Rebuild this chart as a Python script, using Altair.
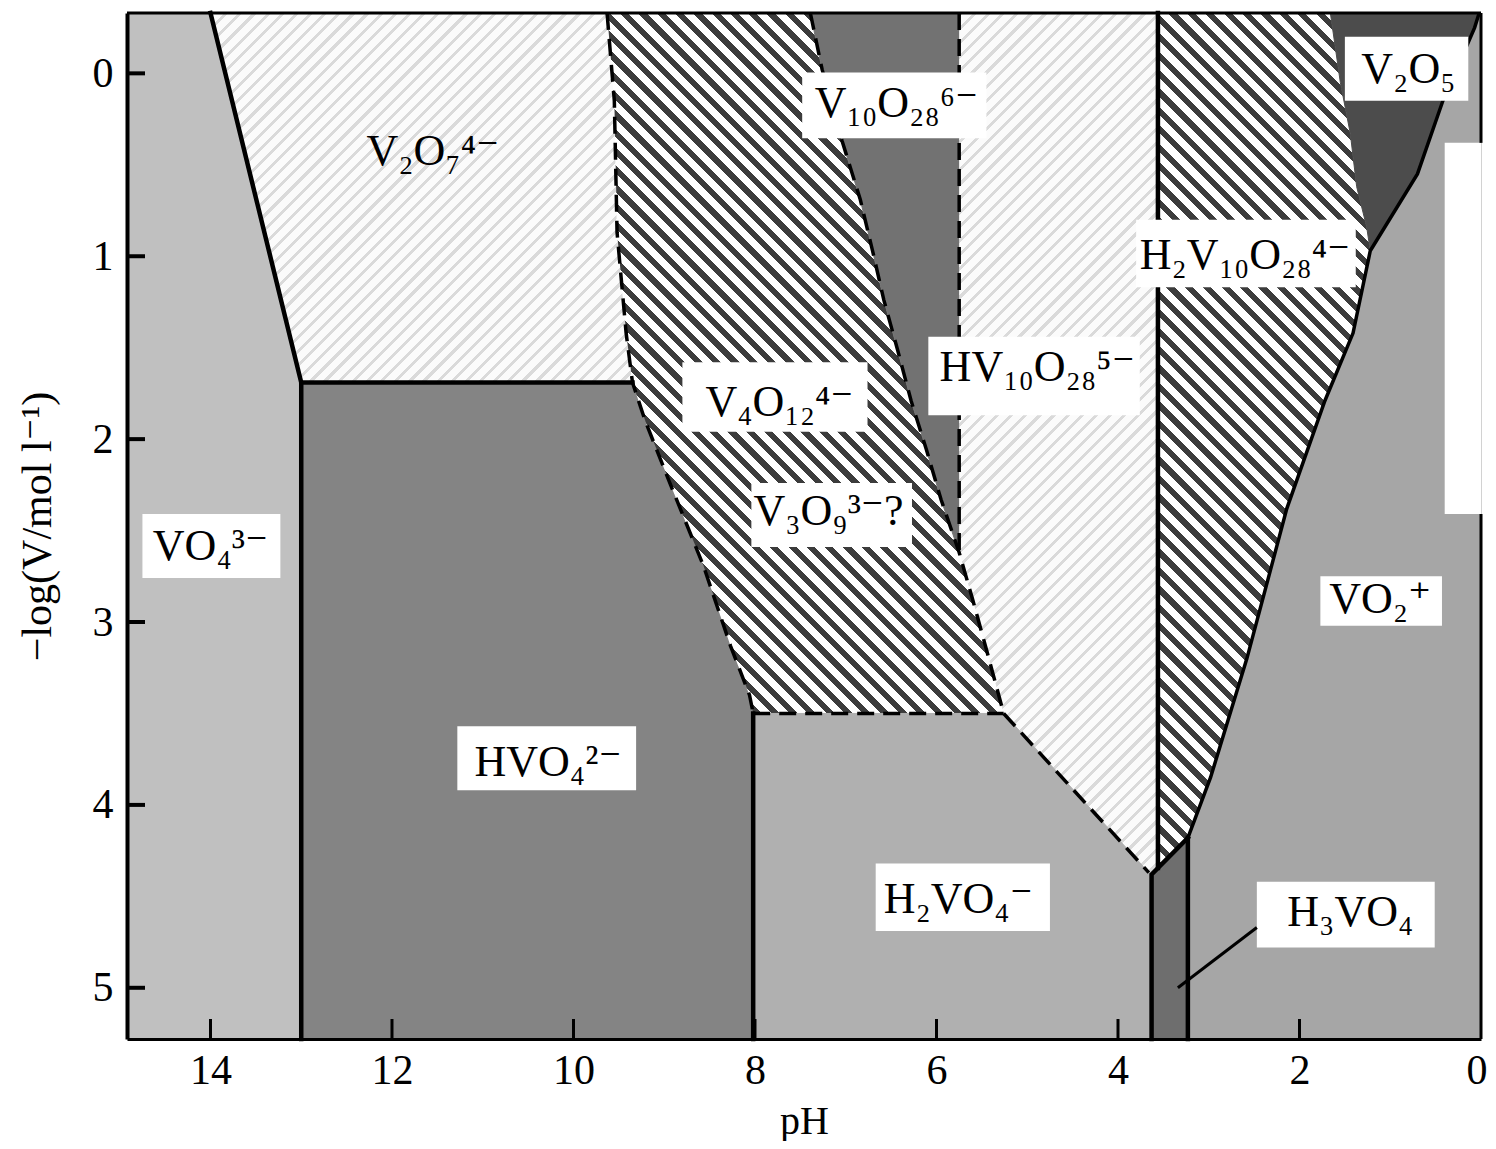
import math
import altair as alt
import pandas as pd

SERIF = "Liberation Serif, DejaVu Serif, serif"
W, H = 1354, 1026
PH_MIN, PH_MAX = 0.0, 14.92
LC_MIN, LC_MAX = -0.33, 5.28

x_ticks = [0, 2, 4, 6, 8, 10, 12, 14]
y_ticks = [0, 1, 2, 3, 4, 5]

# ---------------- boundary lines (pH, -log c) ----------------
vo4_ph = [14.0, 13.0, 13.0]
vo4_lc = [-0.33, 1.69, 5.28]
hvo4_top_ph = [13.0, 9.35]
hvo4_top_lc = [1.69, 1.69]
left_ph = [9.63, 9.55, 9.52, 9.42, 9.35, 9.21, 8.93, 8.57, 8.27, 8.06, 8.02]
left_lc = [-0.33, 0.15, 0.87, 1.42, 1.69, 1.90, 2.25, 2.69, 3.13, 3.40, 3.50]
hvo4_right_ph = [8.02, 8.02]
hvo4_right_lc = [3.50, 5.28]
h2vo4_top_ph = [8.02, 5.26]
h2vo4_top_lc = [3.50, 3.50]
right_ph = [7.39, 7.26, 7.04, 6.84, 6.70, 6.58, 6.43, 6.28, 6.11, 5.95, 5.75, 5.60, 5.45, 5.26]
right_lc = [-0.33, -0.02, 0.37, 0.69, 0.98, 1.24, 1.51, 1.79, 2.06, 2.33, 2.62, 2.88, 3.15, 3.50]
v10_edge_ph = [5.75, 5.75]
v10_edge_lc = [-0.33, 2.62]
h2vo4_diag_ph = [5.26, 3.66]
h2vo4_diag_lc = [3.50, 4.37]
hv10_edge_ph = [3.56, 3.56]
hv10_edge_lc = [-0.33, 4.345]
h3vo4_left_ph = [3.63, 3.63, 3.23]
h3vo4_left_lc = [5.28, 4.38, 4.18]
h3vo4_right_ph = [3.23, 3.23]
h3vo4_right_lc = [5.28, 4.18]
diag_ph = [3.23, 2.98, 2.58, 2.14, 1.72, 1.41, 1.22, 0.70, 0.42, 0.07, 0.02]
diag_lc = [4.18, 3.85, 3.20, 2.38, 1.79, 1.42, 0.97, 0.55, 0.15, -0.25, -0.33]
v2o5_ph = [1.66, 1.55, 1.44, 1.37, 1.26, 1.22]
v2o5_lc = [-0.33, 0.05, 0.33, 0.62, 0.84, 0.97]

# scan artefact (white strip at right edge)
patch_ph = [0.40, 0.0]
patch_lc = [0.38, 2.41]

# ---------------- labels ----------------
labels = ["V₂O₇⁴⁻", "V₁₀O₂₈⁶⁻", "HV₁₀O₂₈⁵⁻", "V₄O₁₂⁴⁻", "V₃O₉³⁻?", "VO₄³⁻",
          "HVO₄²⁻", "H₂VO₄⁻", "H₃VO₄", "VO₂⁺", "H₂V₁₀O₂₈⁴⁻", "V₂O₅"]
label_ph = [11.55, 6.44, 4.89, 7.73, 7.19, 14.0, 10.28, 5.76, 1.44, 1.11, 2.60, 0.80]
label_lc = [0.43, 0.17, 1.61, 1.80, 2.40, 2.59, 3.77, 4.52, 4.59, 2.88, 1.00, -0.02]

box_ph0 = [7.48, 6.09, 8.80, 8.04, 14.75, 11.28, 6.67, 2.47, 1.77, 3.80, 1.50]
box_ph1 = [5.45, 3.76, 6.76, 6.27, 13.23, 9.31, 4.75, 0.51, 0.43, 1.38, 0.14]
box_lc0 = [-0.005, 1.44, 1.58, 2.24, 2.41, 3.57, 4.32, 4.42, 2.75, 0.80, -0.20]
box_lc1 = [0.355, 1.87, 1.96, 2.59, 2.76, 3.92, 4.69, 4.78, 3.02, 1.17, 0.15]

leader_ph = [2.47, 3.34]
leader_lc = [4.67, 5.00]

# ---------------- scales / axes ----------------
xs = alt.Scale(domain=[PH_MIN, PH_MAX], reverse=True, nice=False, zero=False)
ys = alt.Scale(domain=[LC_MIN, LC_MAX], reverse=True, nice=False, zero=False)
x_axis = alt.Axis(values=x_ticks, format="d", title="pH", titleFont=SERIF, titleFontSize=40,
                  titleFontWeight="normal", titleColor="black", titleBaseline="alphabetic", titleY=94,
                  labelFont=SERIF, labelFontSize=42, labelColor="black", labelPadding=11,
                  labelFlush=True, labelFlushOffset=6, labelOverlap=False, ticks=False, grid=False,
                  domainColor="black", domainWidth=3, zindex=1)
y_axis = alt.Axis(values=y_ticks, format="d", title="−log(V/mol l⁻¹)", titleFont=SERIF,
                  titleFontSize=42, titleFontWeight="normal", titleColor="black", titleAngle=270,
                  titleAlign="center", titleBaseline="alphabetic", titleX=-77,
                  labelFont=SERIF, labelFontSize=42, labelColor="black", labelPadding=14,
                  labelFlush=False, labelOverlap=False, ticks=False, grid=False,
                  domainColor="black", domainWidth=4, zindex=1)


def X(f):
    return alt.X(f + ":Q", scale=xs, axis=x_axis)


def Y(f):
    return alt.Y(f + ":Q", scale=ys, axis=y_axis)


PX_X = W / (PH_MAX - PH_MIN)
PX_Y = H / (LC_MAX - LC_MIN)


def stripes(pts, dark, light, frac, period, down=True):
    xsv = [p[0] for p in pts]
    ysv = [p[1] for p in pts]
    w = (max(xsv) - min(xsv)) * PX_X
    h = (max(ysv) - min(ysv)) * PX_Y
    span = (w + h) / math.sqrt(2)
    n = max(1, int(round(span / period)))
    t = (w + h) / (w * w + h * h)
    if down:
        x1, y1, x2, y2 = 0, 1, t * w, 1 - t * h
    else:
        x1, y1, x2, y2 = 0, 0, t * w, t * h
    stops = []
    for k in range(n):
        a, b, c = k / n, (k + frac) / n, (k + 1) / n
        stops += [alt.GradientStop(color=dark, offset=a), alt.GradientStop(color=dark, offset=b),
                  alt.GradientStop(color=light, offset=b), alt.GradientStop(color=light, offset=c)]
    return alt.LinearGradient(gradient="linear", stops=stops, x1=x1, y1=y1, x2=x2, y2=y2)


def P(a, b):
    return list(zip(a, b))


left = P(left_ph, left_lc)
right = P(right_ph, right_lc)
diag = P(diag_ph, diag_lc)
v2o5 = P(v2o5_ph, v2o5_lc)
c_h3 = (h3vo4_left_ph[1], h3vo4_left_lc[1])
j_hv = (hv10_edge_ph[1], hv10_edge_lc[1])
d_end = (h2vo4_diag_ph[1], h2vo4_diag_lc[1])
c_hvo4 = (hvo4_top_ph[0], hvo4_top_lc[0])

poly = {
    "VO4": [(PH_MAX, LC_MIN), (vo4_ph[0], vo4_lc[0]), c_hvo4, (13.0, LC_MAX), (PH_MAX, LC_MAX)],
    "V2O7": [(vo4_ph[0], vo4_lc[0]), c_hvo4] + left[4::-1],
    "HVO4": [c_hvo4] + left[4:] + [(hvo4_right_ph[1], hvo4_right_lc[1]), (13.0, LC_MAX)],
    "V4O12": left + right[::-1],
    "V10_6": right[:11] + [(v10_edge_ph[0], v10_edge_lc[0])],
    "HV10": [(v10_edge_ph[0], LC_MIN)] + right[10:] + [d_end, c_h3, j_hv, (hv10_edge_ph[0], LC_MIN)],
    "H2VO4": [(8.02, 3.50), (5.26, 3.50), d_end, c_h3, (h3vo4_left_ph[0], LC_MAX), (8.02, LC_MAX)],
    "H3VO4": [(h3vo4_left_ph[0], LC_MAX), c_h3, (3.23, 4.18), (3.23, LC_MAX)],
    "H2V10": [(hv10_edge_ph[0], LC_MIN), j_hv] + diag[:7] + v2o5[::-1],
    "V2O5": v2o5 + diag[7:],
    "VO2": [(3.23, LC_MAX)] + diag + [(PH_MIN, LC_MIN), (PH_MIN, LC_MAX)],
}

fills = {
    "VO4": "#c0c0c0",
    "V2O7": stripes(poly["V2O7"], "#dadada", "#fbfbfb", 0.3, 10, down=False),
    "HVO4": "#848484",
    "V4O12": stripes(poly["V4O12"], "#3c3c3c", "#ffffff", 0.45, 13),
    "V10_6": "#727272",
    "HV10": stripes(poly["HV10"], "#dadada", "#fbfbfb", 0.3, 10, down=False),
    "H2VO4": "#b0b0b0",
    "H3VO4": "#6e6e6e",
    "H2V10": stripes(poly["H2V10"], "#3c3c3c", "#ffffff", 0.45, 13),
    "V2O5": "#4c4c4c",
    "VO2": "#a6a6a6",
}

layers = []
for name, pts in poly.items():
    df = pd.DataFrame({"i": list(range(len(pts))), "ph": [p[0] for p in pts], "lc": [p[1] for p in pts]})
    f = fills[name]
    if isinstance(f, str):
        mk = alt.Chart(df).mark_line(fill=f, stroke=f, strokeWidth=1, interpolate="linear")
    else:
        mk = alt.Chart(df).mark_line(fill=f, strokeOpacity=0, strokeWidth=0, interpolate="linear")
    layers.append(mk.encode(x=X("ph"), y=Y("lc"), order="i:Q"))

# white artefact strip
patch_df = pd.DataFrame({"x0": [patch_ph[0]], "x1": [patch_ph[1]], "y0": [patch_lc[0]], "y1": [patch_lc[1]]})
layers.append(alt.Chart(patch_df).mark_rect(color="white").encode(
    x=X("x0"), x2="x1", y=Y("y0"), y2="y1"))


def lines_df(segs):
    rows = []
    for s, (a, b) in enumerate(segs):
        for i, (p, q) in enumerate(zip(a, b)):
            rows.append({"seg": s, "i": i, "ph": p, "lc": q})
    return pd.DataFrame(rows)


dashed = lines_df([(left_ph, left_lc), (h2vo4_top_ph, h2vo4_top_lc), (right_ph, right_lc),
                   (v10_edge_ph, v10_edge_lc), (h2vo4_diag_ph, h2vo4_diag_lc)])
solid = lines_df([(vo4_ph, vo4_lc), (hvo4_top_ph, hvo4_top_lc), (hvo4_right_ph, hvo4_right_lc),
                  (hv10_edge_ph, hv10_edge_lc), (h3vo4_left_ph, h3vo4_left_lc),
                  (h3vo4_right_ph, h3vo4_right_lc)])
diag_df = lines_df([(diag_ph, diag_lc)])

layers.append(alt.Chart(dashed).mark_line(color="black", strokeWidth=3.5, strokeDash=[17, 9]).encode(
    x=X("ph"), y=Y("lc"), detail="seg:N", order="i:Q"))
layers.append(alt.Chart(solid).mark_line(color="black", strokeWidth=4.5, strokeCap="square").encode(
    x=X("ph"), y=Y("lc"), detail="seg:N", order="i:Q"))
layers.append(alt.Chart(diag_df).mark_line(color="black", strokeWidth=3.5).encode(
    x=X("ph"), y=Y("lc"), detail="seg:N", order="i:Q"))

# inward ticks
xt_df = pd.DataFrame({"ph": [v for v in x_ticks if v > 0]})
layers.append(alt.Chart(xt_df).mark_rule(color="black", strokeWidth=3).encode(
    x=X("ph"), y=alt.value(H), y2=alt.value(H - 20)))
yt_df = pd.DataFrame({"lc": y_ticks})
layers.append(alt.Chart(yt_df).mark_rule(color="black", strokeWidth=4).encode(
    y=Y("lc"), x=alt.value(0), x2=alt.value(18)))

# frame: top and right (right interrupted by the artefact strip)
layers.append(alt.Chart(pd.DataFrame({"a": [0]})).mark_rule(color="black", strokeWidth=3).encode(
    x=alt.value(0), x2=alt.value(W), y=alt.value(0)))
rb_df = pd.DataFrame({"ph": [PH_MIN, PH_MIN], "y0": [LC_MIN, patch_lc[1]], "y1": [patch_lc[0], LC_MAX]})
layers.append(alt.Chart(rb_df).mark_rule(color="black", strokeWidth=3).encode(
    x=X("ph"), y=Y("y0"), y2="y1"))

# label boxes
box_df = pd.DataFrame({"x0": box_ph0, "x1": box_ph1, "y0": box_lc0, "y1": box_lc1})
layers.append(alt.Chart(box_df).mark_rect(color="white").encode(
    x=X("x0"), x2="x1", y=Y("y0"), y2="y1"))

# leader line for H3VO4
lead_df = pd.DataFrame({"x0": [leader_ph[0]], "x1": [leader_ph[1]], "y0": [leader_lc[0]], "y1": [leader_lc[1]]})
layers.append(alt.Chart(lead_df).mark_rule(color="black", strokeWidth=3).encode(
    x=X("x0"), x2="x1", y=Y("y0"), y2="y1"))

# labels
lab_df = pd.DataFrame({"label": labels, "ph": label_ph, "lc": label_lc})
layers.append(alt.Chart(lab_df).mark_text(font=SERIF, fontSize=44, color="black",
                                          align="center", baseline="middle").encode(
    x=X("ph"), y=Y("lc"), text="label:N"))

chart = alt.layer(*layers).properties(
    width=W, height=H,
    autosize=alt.AutoSizeParams(type="none"),
    padding={"left": 119, "top": 5, "right": 7, "bottom": 102},
    background="white",
).configure_view(stroke=None)

chart.save("out.html", embed_options={"renderer": "svg", "actions": False})
